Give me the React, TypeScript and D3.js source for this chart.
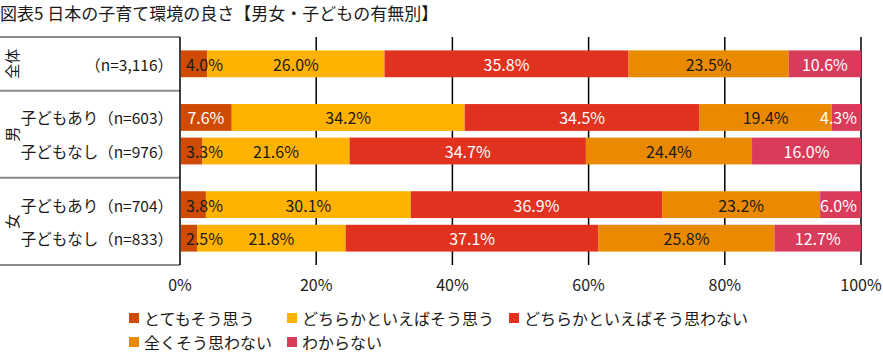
import React, { useEffect, useRef } from 'react';
import * as d3 from 'd3';

const title = '図表5 日本の子育て環境の良さ【男女・子どもの有無別】';

const categories = [
  'とてもそう思う',
  'どちらかといえばそう思う',
  'どちらかといえばそう思わない',
  '全くそう思わない',
  'わからない',
];
const colors = ['#cf4b03', '#ffb300', '#e0321f', '#e98a00', '#d93b5b'];
// whether the label on each category is drawn white
const whiteLabel = [true, false, true, false, true];

const groups = ['全体', '男', '女'];
const rowGroup = ['全体', '男', '男', '女', '女'];
const rowLabels = [
  '（n=3,116）',
  '子どもあり（n=603）',
  '子どもなし（n=976）',
  '子どもあり（n=704）',
  '子どもなし（n=833）',
];

const veryAgree = [4.0, 7.6, 3.3, 3.8, 2.5];
const ratherAgree = [26.0, 34.2, 21.6, 30.1, 21.8];
const ratherDisagree = [35.8, 34.5, 34.7, 36.9, 37.1];
const notAtAll = [23.5, 19.4, 24.4, 23.2, 25.8];
const dontKnow = [10.6, 4.3, 16.0, 6.0, 12.7];

const ticks = [0, 20, 40, 60, 80, 100];

const legendRows = [
  [0, 1, 2],
  [3, 4],
];

const FONT = '"Noto Sans CJK JP", "Noto Sans", sans-serif';

const W = 883;
const H = 353;

export default function App() {
  const svgRef = useRef<SVGSVGElement>(null);

  useEffect(() => {
    document.body.style.margin = '0';
    if (!svgRef.current) return;
    const svg = d3.select(svgRef.current);
    svg.selectAll('*').remove();

    const left = 180;
    const right = 861;
    const top = 37;
    const bottom = 265;

    const series = [veryAgree, ratherAgree, ratherDisagree, notAtAll, dontKnow];

    // row / group layout in "units": each row 1 unit, each group padded both sides
    const pad = 0.3;
    let u = 0;
    const rowCenter: number[] = [];
    const groupSpan: { name: string; start: number; end: number }[] = [];
    groups.forEach((g) => {
      const start = u;
      u += pad;
      rowGroup.forEach((rg, i) => {
        if (rg === g) {
          rowCenter[i] = u + 0.5;
          u += 1;
        }
      });
      u += pad;
      groupSpan.push({ name: g, start, end: u });
    });

    const y = d3.scaleLinear().domain([0, u]).range([top, bottom]);
    const x = d3.scaleLinear().domain([0, 100]).range([left, right]);
    const barH = y(0.8) - y(0);

    // title
    svg
      .append('text')
      .attr('x', 0)
      .attr('y', 19.5)
      .attr('font-size', '17px')
      .attr('font-family', FONT)
      .attr('fill', '#1a1a1a')
      .text(title);

    // group separators in label column
    const bounds = Array.from(new Set(groupSpan.flatMap((g) => [g.start, g.end])));
    svg
      .append('g')
      .selectAll('line')
      .data(bounds)
      .enter()
      .append('line')
      .attr('x1', 0)
      .attr('x2', left)
      .attr('y1', (d) => y(d))
      .attr('y2', (d) => y(d))
      .attr('stroke', '#8a8a8a')
      .attr('stroke-width', 2);

    // group labels (rotated)
    groupSpan.forEach((g) => {
      const cy = (y(g.start) + y(g.end)) / 2;
      svg
        .append('text')
        .attr('transform', `translate(11,${cy}) rotate(-90)`)
        .attr('text-anchor', 'middle')
        .attr('dominant-baseline', 'central')
        .attr('font-size', '15px')
        .attr('font-family', FONT)
        .attr('fill', '#1a1a1a')
        .text(g.name);
    });

    // row labels
    svg
      .append('g')
      .selectAll('text')
      .data(rowLabels)
      .enter()
      .append('text')
      .attr('x', 173)
      .attr('y', (_, i) => y(rowCenter[i]))
      .attr('text-anchor', 'end')
      .attr('dominant-baseline', 'central')
      .attr('font-size', '15.5px')
      .attr('font-family', FONT)
      .attr('fill', '#1a1a1a')
      .text((d) => d);

    // vertical grid lines (behind the bars)
    svg
      .append('g')
      .selectAll('line')
      .data(ticks)
      .enter()
      .append('line')
      .attr('x1', (d) => x(d))
      .attr('x2', (d) => x(d))
      .attr('y1', top)
      .attr('y2', bottom)
      .attr('stroke', '#000')
      .attr('stroke-width', 1.5);

    // bars
    const barG = svg.append('g');
    const labelG = svg.append('g');
    rowLabels.forEach((_, i) => {
      const vals = series.map((s) => s[i]);
      const total = d3.sum(vals);
      let acc = 0;
      vals.forEach((v, c) => {
        const x0 = x((acc / total) * 100);
        acc += v;
        const x1 = x((acc / total) * 100);
        const cy = y(rowCenter[i]);
        barG
          .append('rect')
          .attr('x', x0 + (c === 0 ? 1 : 0))
          .attr('y', cy - barH / 2)
          .attr('width', x1 - x0 - (c === 0 ? 1 : 0))
          .attr('height', barH)
          .attr('fill', colors[c]);

        const t = labelG
          .append('text')
          .attr('x', (x0 + x1) / 2)
          .attr('y', cy)
          .attr('text-anchor', 'middle')
          .attr('dominant-baseline', 'central')
          .attr('font-size', '16px')
          .attr('font-family', FONT)
          .text(`${v.toFixed(1)}%`);
        const tw = (t.node() as SVGTextElement).getComputedTextLength();
        let cx = (x0 + x1) / 2;
        cx = Math.max(cx, left + 6 + tw / 2);
        cx = Math.min(cx, right - 4 - tw / 2);
        t.attr('x', cx);
        const fits = tw + 4 < x1 - x0;
        const white = c === 0 ? fits : whiteLabel[c];
        t.attr('fill', white ? '#ffffff' : '#1a1a1a');
      });
    });

    // tick labels
    svg
      .append('g')
      .selectAll('text')
      .data(ticks)
      .enter()
      .append('text')
      .attr('x', (d) => x(d))
      .attr('y', 284)
      .attr('text-anchor', 'middle')
      .attr('dominant-baseline', 'central')
      .attr('font-size', '16px')
      .attr('font-family', FONT)
      .attr('fill', '#1a1a1a')
      .text((d) => `${d}%`);

    // legend: column layout, column width = widest text in that column
    const legendY = [318, 342];
    const measure = svg
      .append('text')
      .attr('font-size', '16px')
      .attr('font-family', FONT);
    const widthOf = (s: string) => {
      measure.text(s);
      return (measure.node() as SVGTextElement).getComputedTextLength();
    };
    const nCols = d3.max(legendRows, (r) => r.length) || 0;
    const colX: number[] = [];
    let cx = 129;
    for (let col = 0; col < nCols; col++) {
      colX.push(cx);
      const maxW = d3.max(legendRows, (r) => (r[col] !== undefined ? widthOf(categories[r[col]]) : 0)) || 0;
      cx += 15 + maxW + 15;
    }
    measure.remove();

    const leg = svg.append('g');
    legendRows.forEach((r, ri) => {
      r.forEach((c, col) => {
        leg
          .append('rect')
          .attr('x', colX[col])
          .attr('y', legendY[ri] - 5)
          .attr('width', 10)
          .attr('height', 10)
          .attr('fill', colors[c]);
        leg
          .append('text')
          .attr('x', colX[col] + 15)
          .attr('y', legendY[ri])
          .attr('dominant-baseline', 'central')
          .attr('font-size', '16px')
          .attr('font-family', FONT)
          .attr('fill', '#1a1a1a')
          .text(categories[c]);
      });
    });
  }, []);

  return <svg ref={svgRef} width={W} height={H} style={{ display: 'block', background: '#fff' }} />;
}
